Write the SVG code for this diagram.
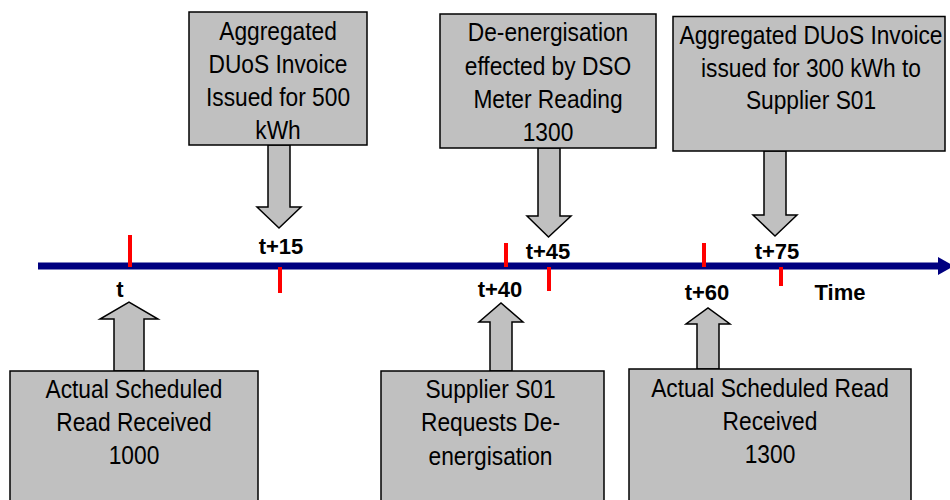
<svg xmlns="http://www.w3.org/2000/svg" width="950" height="500" viewBox="0 0 950 500">
<style>
.box{fill:#C0C0C0;stroke:#000;stroke-width:1.5}
.arr{fill:#C0C0C0;stroke:#000;stroke-width:1.5;stroke-linejoin:miter}
.txt{font-family:"Liberation Sans",Arial,sans-serif;font-size:25px;fill:#000;text-anchor:middle}
.lbl{font-family:"Liberation Sans",Arial,sans-serif;font-size:22px;font-weight:bold;fill:#000;text-anchor:middle}
.tick{stroke:#FF0000;stroke-width:4}
</style>
<rect width="950" height="500" fill="#fff"/>
<g id="timeline">
<line x1="38" y1="266" x2="942" y2="266" stroke="#000080" stroke-width="7"/>
<polygon points="938,257 954,266 938,275" fill="#000080"/>
<line class="tick" x1="130" y1="235" x2="130" y2="267"/>
<line class="tick" x1="280" y1="267" x2="280" y2="293"/>
<line class="tick" x1="506" y1="243" x2="506" y2="267"/>
<line class="tick" x1="549" y1="267" x2="549" y2="291"/>
<line class="tick" x1="704" y1="243" x2="704" y2="267"/>
<line class="tick" x1="781" y1="267" x2="781" y2="286"/>
<text class="lbl" x="120" y="297">t</text>
<text class="lbl" x="281" y="254">t+15</text>
<text class="lbl" x="500" y="297">t+40</text>
<text class="lbl" x="548" y="259">t+45</text>
<text class="lbl" x="707" y="300">t+60</text>
<text class="lbl" x="777" y="259">t+75</text>
<text class="lbl" x="840" y="300">Time</text>
</g>
<g id="connectors">
<polygon class="arr" points="268,145 290,145 290,207 301,207 279,228 257,207 268,207"/>
<polygon class="arr" points="538,148 560,148 560,216 571,216 548.5,237 527,216 538,216"/>
<polygon class="arr" points="764,151 786,151 786,215 797,215 775,236 753,215 764,215"/>
<polygon class="arr" points="114,371 144,371 144,319 158,319 129,302 100,319 114,319"/>
<polygon class="arr" points="490,371 512,371 512,322 523,322 501,303 479,322 490,322"/>
<polygon class="arr" points="697,369 719,369 719,324 730,324 708,308 686,324 697,324"/>
</g>
<g id="node-invoice500">
<rect class="box" x="189" y="12" width="178" height="133"/>
<text class="txt" transform="translate(278,40) scale(0.91,1)">Aggregated</text>
<text class="txt" transform="translate(278,73) scale(0.91,1)">DUoS Invoice</text>
<text class="txt" transform="translate(278,106) scale(0.91,1)">Issued for 500</text>
<text class="txt" transform="translate(278,139) scale(0.91,1)">kWh</text>
</g>
<g id="node-deenergisation">
<rect class="box" x="440" y="14" width="216" height="134"/>
<text class="txt" transform="translate(548,41) scale(0.91,1)">De-energisation</text>
<text class="txt" transform="translate(548,74.5) scale(0.91,1)">effected by DSO</text>
<text class="txt" transform="translate(548,108) scale(0.91,1)">Meter Reading</text>
<text class="txt" transform="translate(548,141) scale(0.91,1)">1300</text>
</g>
<g id="node-invoice300">
<rect class="box" x="673" y="16.5" width="272" height="134.5"/>
<text class="txt" transform="translate(811,44) scale(0.91,1)">Aggregated DUoS Invoice</text>
<text class="txt" transform="translate(811,76.5) scale(0.91,1)">issued for 300 kWh to</text>
<text class="txt" transform="translate(811,108.5) scale(0.91,1)">Supplier S01</text>
</g>
<g id="node-read1000">
<rect class="box" x="10" y="371" width="248" height="135"/>
<text class="txt" transform="translate(134,398) scale(0.91,1)">Actual Scheduled</text>
<text class="txt" transform="translate(134,431) scale(0.91,1)">Read Received</text>
<text class="txt" transform="translate(134,464) scale(0.91,1)">1000</text>
</g>
<g id="node-request">
<rect class="box" x="381" y="371" width="223" height="135"/>
<text class="txt" transform="translate(490.5,398) scale(0.91,1)">Supplier S01</text>
<text class="txt" transform="translate(490.5,431) scale(0.91,1)">Requests De-</text>
<text class="txt" transform="translate(490.5,464.5) scale(0.91,1)">energisation</text>
</g>
<g id="node-read1300">
<rect class="box" x="629" y="369" width="282" height="137"/>
<text class="txt" transform="translate(770,396.5) scale(0.91,1)">Actual Scheduled Read</text>
<text class="txt" transform="translate(770,429.5) scale(0.91,1)">Received</text>
<text class="txt" transform="translate(770,463) scale(0.91,1)">1300</text>
</g>
</svg>
